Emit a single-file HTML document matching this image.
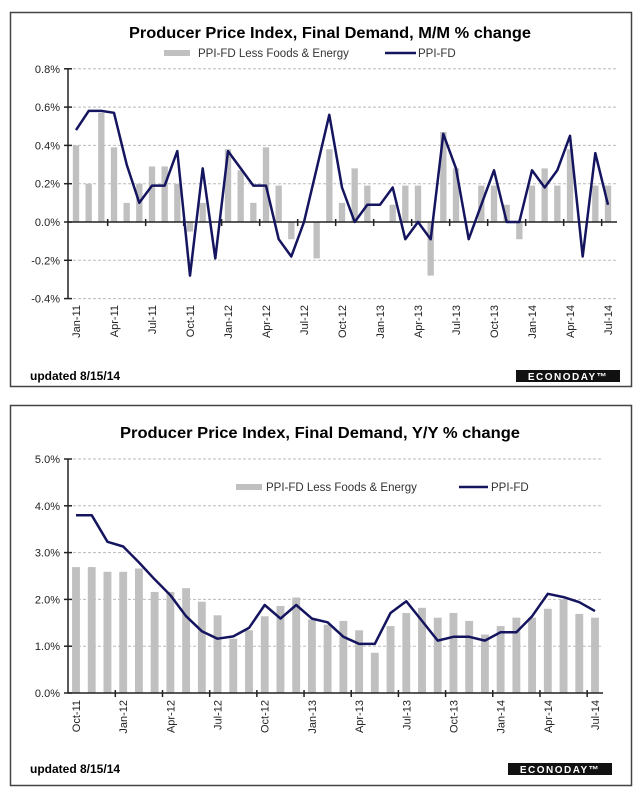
<!DOCTYPE html>
<html><head><meta charset="utf-8">
<style>
body{margin:0;background:#fff;width:640px;height:793px;overflow:hidden;font-family:"Liberation Sans",Arial,sans-serif}
svg{display:block}
</style></head><body>
<svg id="svg" width="640" height="793">
<rect x="10.5" y="12.5" width="621" height="374" fill="#fff" stroke="#444" stroke-width="1.5"/>
<rect x="10.5" y="405.5" width="621" height="380" fill="#fff" stroke="#444" stroke-width="1.5"/>
<text x="330" y="38" text-anchor="middle" font-size="16" font-weight="bold" textLength="402" lengthAdjust="spacingAndGlyphs">Producer Price Index, Final Demand, M/M % change</text>
<rect x="164" y="50" width="26" height="6" fill="#c0c0c0"/>
<text x="198" y="57" font-size="11.5" fill="#333">PPI-FD Less Foods &amp; Energy</text>
<line x1="385" y1="53" x2="416" y2="53" stroke="#14145f" stroke-width="2.5"/>
<text x="418" y="57" font-size="11.5" fill="#333">PPI-FD</text>
<text x="30" y="380" font-size="12" font-weight="bold">updated 8/15/14</text>
<rect x="516" y="370" width="104" height="12" fill="#111"/>
<text x="568" y="380" text-anchor="middle" font-size="10" font-weight="bold" fill="#fff" letter-spacing="1.5">ECONODAY™</text>
<text x="320" y="438" text-anchor="middle" font-size="16" font-weight="bold" textLength="400" lengthAdjust="spacingAndGlyphs">Producer Price Index, Final Demand, Y/Y % change</text>
<rect x="236" y="484" width="26" height="6" fill="#c0c0c0"/>
<text x="266" y="491" font-size="11.5" fill="#333">PPI-FD Less Foods &amp; Energy</text>
<line x1="459" y1="487" x2="488" y2="487" stroke="#14145f" stroke-width="2.5"/>
<text x="491" y="491" font-size="11.5" fill="#333">PPI-FD</text>
<text x="30" y="773" font-size="12" font-weight="bold">updated 8/15/14</text>
<rect x="508" y="763" width="104" height="12" fill="#111"/>
<text x="560" y="773" text-anchor="middle" font-size="10" font-weight="bold" fill="#fff" letter-spacing="1.5">ECONODAY™</text>
</svg>
<script>
const mmMonths=["Jan-11","Feb-11","Mar-11","Apr-11","May-11","Jun-11","Jul-11","Aug-11","Sep-11","Oct-11","Nov-11","Dec-11","Jan-12","Feb-12","Mar-12","Apr-12","May-12","Jun-12","Jul-12","Aug-12","Sep-12","Oct-12","Nov-12","Dec-12","Jan-13","Feb-13","Mar-13","Apr-13","May-13","Jun-13","Jul-13","Aug-13","Sep-13","Oct-13","Nov-13","Dec-13","Jan-14","Feb-14","Mar-14","Apr-14","May-14","Jun-14","Jul-14"];
const mmCore=[0.4,0.2,0.57,0.39,0.1,0.2,0.29,0.29,0.2,-0.05,0.1,0,0.38,0.27,0.1,0.39,0.19,-0.09,0,-0.19,0.38,0.1,0.28,0.19,0,0.09,0.19,0.19,-0.28,0.47,0.28,0,0.19,0.19,0.09,-0.09,0.19,0.28,0.19,0.38,0,0.19,0.19];
const mmPPI=[0.48,0.58,0.58,0.57,0.3,0.1,0.19,0.19,0.37,-0.28,0.28,-0.19,0.37,0.28,0.19,0.19,-0.09,-0.18,0.0,0.28,0.56,0.18,0.0,0.09,0.09,0.18,-0.09,0.0,-0.09,0.46,0.28,-0.09,0.09,0.27,0.0,0.0,0.27,0.18,0.27,0.45,-0.18,0.36,0.09];
const mmTicks=[0.8,0.6,0.4,0.2,0.0,-0.2,-0.4];
const yyMonths=["Oct-11","Nov-11","Dec-11","Jan-12","Feb-12","Mar-12","Apr-12","May-12","Jun-12","Jul-12","Aug-12","Sep-12","Oct-12","Nov-12","Dec-12","Jan-13","Feb-13","Mar-13","Apr-13","May-13","Jun-13","Jul-13","Aug-13","Sep-13","Oct-13","Nov-13","Dec-13","Jan-14","Feb-14","Mar-14","Apr-14","May-14","Jun-14","Jul-14"];
const yyCore=[2.69,2.69,2.59,2.59,2.66,2.16,2.16,2.24,1.95,1.66,1.16,1.34,1.64,1.86,2.04,1.57,1.46,1.54,1.34,0.86,1.43,1.71,1.82,1.61,1.71,1.54,1.25,1.43,1.61,1.61,1.8,2.0,1.69,1.61];
const yyPPI=[3.8,3.8,3.23,3.13,2.79,2.43,2.09,1.64,1.32,1.16,1.21,1.39,1.88,1.59,1.88,1.59,1.51,1.2,1.05,1.05,1.71,1.96,1.54,1.12,1.2,1.2,1.12,1.3,1.3,1.64,2.12,2.05,1.94,1.75];
const yyTicks=[5,4,3,2,1,0];

const svg=document.getElementById('svg');
const NS='http://www.w3.org/2000/svg';
function mk(tag,attrs){const e=document.createElementNS(NS,tag);for(const k in attrs)e.setAttribute(k,attrs[k]);svg.appendChild(e);return e;}

function chart(p){
  const n=p.cats.length;
  const step=(p.x1-p.x0)/(n-1);
  const X=i=>p.x0+i*step;
  const Y=v=>p.yZero-v*p.pxPer;
  p.ticks.forEach(t=>{
    const y=Y(t);
    if(t!==0){const g=mk('line',{x1:p.axisX,x2:p.gridEnd,y1:y,y2:y,stroke:'#bbb','stroke-dasharray':'3,2','stroke-width':1});
    
    }
    const tk=mk('line',{x1:p.axisX-4,x2:p.axisX+4,y1:y,y2:y,stroke:'#222','stroke-width':1.5});
    
    
    const tx=mk('text',{x:p.axisX-8,y:y+4,'text-anchor':'end','font-size':11,fill:'#222'});
    tx.textContent=t.toFixed(1)+'%';
    
    
  });
  const bw=step*p.barFrac;
  p.core.forEach((v,i)=>{
    const y=Math.min(Y(v),Y(0));const h=Math.abs(Y(v)-Y(0));
    const b=mk('rect',{x:X(i)-bw/2,y:y,width:bw,height:h,fill:'#c0c0c0'});
    
    
  });
  const ya=mk('line',{x1:p.axisX,x2:p.axisX,y1:Y(p.ticks[0]),y2:Y(p.ticks[p.ticks.length-1]),stroke:'#222','stroke-width':1.5});
  
  
  const xa=mk('line',{x1:p.axisX,x2:p.gridEnd,y1:Y(0),y2:Y(0),stroke:'#222','stroke-width':1.5});
  
  
  for(let i=0;i<n;i+=3){
    if(i>0){const tk=mk('line',{x1:X(i)-step/2,x2:X(i)-step/2,y1:Y(0)-3,y2:Y(0)+4,stroke:'#222','stroke-width':1.5});
    
    }
    const ly=p.labelY;
    const tx=mk('text',{x:X(i)+4,y:ly,'text-anchor':'end','font-size':11,fill:'#222',transform:`rotate(-90 ${X(i)+4} ${ly})`});
    tx.textContent=p.cats[i];
    
    
  }
  const pts=p.line.map((v,i)=>X(i).toFixed(1)+','+Y(v).toFixed(1)).join(' ');
  const pl=mk('polyline',{points:pts,fill:'none',stroke:'#14145f','stroke-width':2.5,'stroke-linejoin':'round'});
  
  
}
chart({id:'mm',cats:mmMonths,core:mmCore,line:mmPPI,ticks:mmTicks,x0:76,x1:608,yZero:222,pxPer:191.5,axisX:68,gridEnd:617,barFrac:0.5,labelY:305});
chart({id:'yy',cats:yyMonths,core:yyCore,line:yyPPI,ticks:yyTicks,x0:76,x1:595,yZero:693,pxPer:46.8,axisX:68,gridEnd:603,barFrac:0.5,labelY:700});
</script>
</body></html>
